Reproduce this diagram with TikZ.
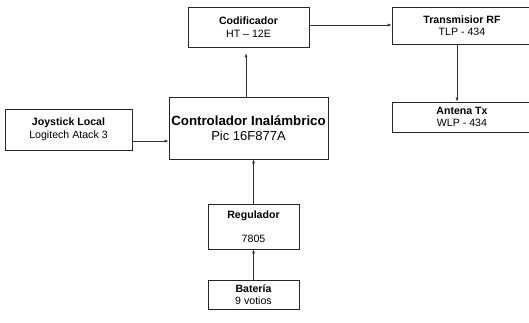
\documentclass[tikz,border=0pt]{standalone}
\usepackage{fontspec}
\setmainfont{Liberation Sans}
\usetikzlibrary{arrows.meta,calc}
\begin{document}
\begin{tikzpicture}[x=1pt,y=-1pt,
  box/.style={draw=black!85,line width=0.6pt,fill=white,inner sep=0pt,align=center,
    font=\fontsize{10.6}{12.5}\selectfont},
  conn/.style={draw=black!80,line width=0.6pt,-{Latex[length=4pt,width=3pt]}}]
\useasboundingbox (0,0) rectangle (529,323);
\node[box,minimum width=121pt,minimum height=40pt] (cod) at (248.5,27)
  {\textbf{Codificador}\\HT – 12E};
\node[box,minimum width=140pt,minimum height=37pt] (tx) at (462,25.5)
  {\textbf{Transmisior RF}\\TLP - 434};
\node[box,minimum width=140pt,minimum height=30pt] (ant) at (462,117)
  {\textbf{Antena Tx}\\WLP - 434};
\node[box,minimum width=127pt,minimum height=41pt] (joy) at (68.5,129.5)
  {\textbf{Joystick Local}\\Logitech Atack 3};
\node[box,minimum width=159pt,minimum height=62pt] (ctrl) at (248.5,128)
  {{\fontsize{13.3}{16}\selectfont\bfseries Controlador Inalámbrico}\\[2.5pt]{\fontsize{13}{15}\selectfont Pic 16F877A}};
\node[box,minimum width=91pt,minimum height=45pt] (reg) at (253.5,226.5)
  {\textbf{Regulador}\\[11pt]7805};
\node[box,minimum width=91pt,minimum height=29pt] (bat) at (253.5,294.5)
  {\textbf{Batería}\\9 votios};
\draw[conn,shorten >=6pt] ($(ctrl.north)+(-2.5,0)$) -- ($(cod.south)+(-2.5,0)$);
\draw[conn] (cod.east |- 0,25) -- (tx.west |- 0,25);
\draw[conn] ($(tx.south)+(-5,0)$) -- ($(ant.north)+(-5,0)$);
\draw[conn] (joy.east |- 0,141) -- (ctrl.west |- 0,141);
\draw[conn] (reg.north) -- (ctrl.south -| reg.north);
\draw[conn] (bat.north) -- (reg.south);
\end{tikzpicture}
\end{document}
